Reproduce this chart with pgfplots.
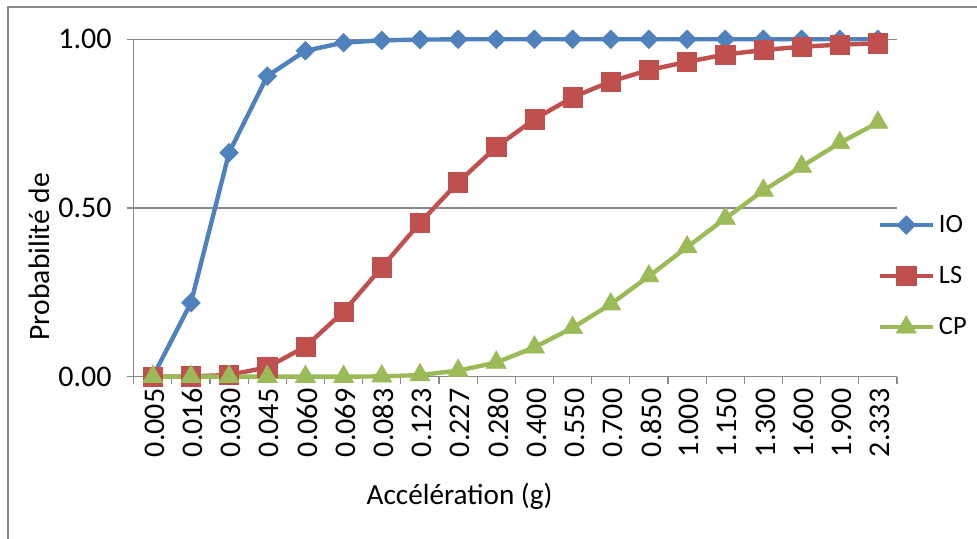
\documentclass[border=0pt]{standalone}
\usepackage{fontspec}
\setmainfont{Carlito}
\usepackage{pgfplots}
\pgfplotsset{compat=1.18}
\definecolor{ioblue}{HTML}{4F81BD}
\definecolor{lsred}{HTML}{C0504D}
\definecolor{cpgreen}{HTML}{9BBB59}
\definecolor{gridgray}{HTML}{888888}
\begin{document}
\begin{tikzpicture}
\useasboundingbox (0,0) rectangle (488.5pt,269.5pt);
% chart frame
\draw[gridgray,line width=1pt] (4pt,-10pt) -- (4pt,266.15pt) -- (500pt,266.15pt);
\begin{axis}[
  at={(66.85pt,81.15pt)}, anchor=south west,
  scale only axis,
  width=381.65pt, height=168.7pt,
  xmin=-0.5, xmax=19.5, ymin=0, ymax=1,
  axis lines=left,
  axis line style={-, gridgray, line width=0.6pt},
  xtick={0,...,19},
  xticklabels={0.005,0.016,0.030,0.045,0.060,0.069,0.083,0.123,0.227,0.280,0.400,0.550,0.700,0.850,1.000,1.150,1.300,1.600,1.900,2.333},
  minor xtick={-0.5,0.5,...,19.5},
  major x tick style={draw=none},
  minor x tick style={gridgray, line width=0.6pt},
  minor tick length=3.5pt,
  major tick length=3.5pt,
  tick align=outside,
  ytick={0,0.5,1},
  y tick style={gridgray, line width=0.6pt},
  ymajorgrids,
  major grid style={gridgray, line width=0.6pt},
  yticklabel style={/pgf/number format/fixed, /pgf/number format/fixed zerofill, /pgf/number format/precision=2, font=\fontsize{15}{17}\selectfont, xshift=-4pt},
  xticklabel style={rotate=90, anchor=east, font=\fontsize{15}{17}\selectfont, xshift=1pt, yshift=-1pt},
  /pgf/number format/assume math mode=true,
  xlabel={Accélération (g)},
  xlabel style={at={(axis description cs:0.427,-0.356)}, anchor=center, font=\fontsize{14.6}{16}\selectfont},
  ylabel={Probabilité de},
  ylabel style={at={(axis description cs:-0.124,0.356)}, anchor=center, rotate=0, font=\fontsize{14.8}{16}\selectfont},
  legend style={at={(axis description cs:0.974,0.298)}, anchor=west, draw=none, fill=none, inner sep=0pt, font=\fontsize{13.2}{15}\selectfont, row sep=11.5pt, /tikz/every even column/.append style={column sep=2pt}},
  legend cell align=left,
  legend image code/.code={\draw[mark repeat=2,mark phase=2,#1] plot coordinates {(0pt,0pt) (13.25pt,0pt) (26.5pt,0pt)};},
  clip=false,
]
\addplot[ioblue, line width=2.2pt, mark=square*, mark size=3.3pt, mark options={rotate=45, solid, line width=0.3pt}]
  coordinates {(0,0) (1,0.219) (2,0.664) (3,0.891) (4,0.966) (5,0.990) (6,0.997) (7,0.999) (8,1.000) (9,1.000) (10,1.000) (11,1.000) (12,1.000) (13,1.000) (14,1.000) (15,1.000) (16,1.000) (17,1.000) (18,1.000) (19,1.000)};
\addlegendentry{IO}
\addplot[lsred, line width=2.2pt, mark=square*, mark size=4.8pt, mark options={solid, line width=0.3pt}]
  coordinates {(0,0) (1,0.001) (2,0.005) (3,0.028) (4,0.089) (5,0.193) (6,0.324) (7,0.456) (8,0.576) (9,0.681) (10,0.763) (11,0.828) (12,0.875) (13,0.909) (14,0.933) (15,0.955) (16,0.968) (17,0.978) (18,0.984) (19,0.988)};
\addlegendentry{LS}
\addplot[cpgreen, line width=2.2pt, mark=triangle*, mark size=5.8pt, mark options={solid, line width=0.3pt}]
  coordinates {(0,0) (1,0) (2,0) (3,0) (4,0) (5,0) (6,0.001) (7,0.005) (8,0.018) (9,0.042) (10,0.087) (11,0.145) (12,0.215) (13,0.298) (14,0.384) (15,0.469) (16,0.552) (17,0.623) (18,0.693) (19,0.753)};
\addlegendentry{CP}
\end{axis}
\end{tikzpicture}
\end{document}
